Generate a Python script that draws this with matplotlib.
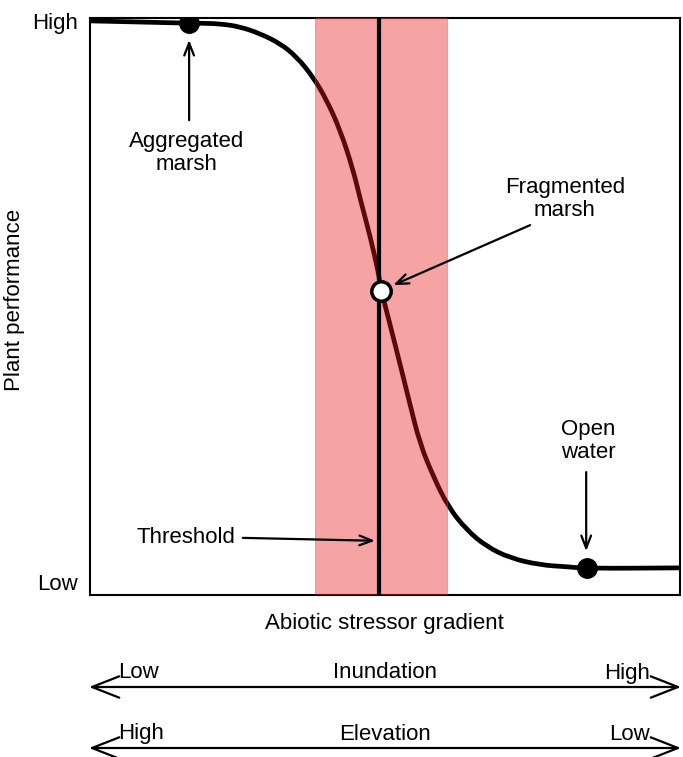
import matplotlib
matplotlib.use("Agg")
import matplotlib.pyplot as plt
from matplotlib.patches import FancyArrowPatch, PathPatch
from matplotlib.path import Path

plt.rcParams['font.family'] = ['Liberation Sans', 'DejaVu Sans']

# curve (x: stressor 0-100, y: performance 0-100)
stress = [0, 8.5, 16.8, 18.6, 22.0, 25.4, 28.8, 32.2, 35.0, 37.8, 40.1, 42.4,
          44.6, 45.8, 47.5, 48.9, 49.4, 50.8, 52.5, 54.2, 55.9, 58.2, 60.7,
          63.8, 67.2, 71.2, 76.3, 80.8, 84.2, 100]
performance = [99.5, 99.3, 99.1, 99.1, 99.0, 98.5, 97.3, 95.6, 93.3, 89.8, 85.8,
               80.6, 73.7, 68.6, 62.1, 55.8, 52.6, 47.1, 40.2, 33.2, 26.3, 20.5,
               15.3, 11.3, 8.4, 6.4, 5.2, 4.9, 4.6, 4.7]

states = ["Aggregated\nmarsh", "Fragmented\nmarsh", "Open\nwater"]
state_x = [16.8, 49.4, 84.2]
state_y = [99.1, 52.6, 4.6]

threshold = 49.0
band = (38.1, 60.5)

fig = plt.figure(figsize=(6.83, 7.57), dpi=100)
ax = fig.add_axes([90/683, 1-595/757, 590/683, 577/757])
ax.set_xlim(0, 100)
ax.set_ylim(0, 100)

# smooth the read points: they act as quadratic bezier controls,
# the curve runs through the middles between them
pts = list(zip(stress, performance))
verts = [pts[0]]
codes = [Path.MOVETO]
for i in range(1, len(pts) - 1):
    mid = ((pts[i][0] + pts[i+1][0]) / 2, (pts[i][1] + pts[i+1][1]) / 2)
    verts += [pts[i], mid]
    codes += [Path.CURVE3, Path.CURVE3]
verts.append(pts[-1])
codes.append(Path.LINETO)
ax.add_patch(PathPatch(Path(verts, codes), facecolor='none', edgecolor='black',
                       lw=3.4, capstyle='butt', zorder=2))

ax.axvspan(band[0], band[1], facecolor=(0.9, 0.1, 0.1), alpha=0.4,
           edgecolor=(0.85, 0.3, 0.3), lw=0.8, zorder=3)
ax.axvline(threshold, color='black', lw=3, zorder=4)

ax.plot(state_x[0], state_y[0], 'o', color='black', ms=14, zorder=5)
ax.plot(state_x[2], state_y[2], 'o', color='black', ms=14, zorder=5)
ax.plot(state_x[1], state_y[1], 'o', mfc='white', mec='black', mew=2.5, ms=14, zorder=6)

for s in ax.spines.values():
    s.set_linewidth(1.5)
ax.set_xticks([])
ax.set_yticks([])

fs = 16
arrow = dict(arrowstyle='->,head_length=0.9,head_width=0.35', color='black', lw=1.6,
             shrinkA=0, shrinkB=0)
ax.annotate("", xy=(16.8, 96.2), xytext=(16.8, 82.3), arrowprops=arrow)
ax.text(16.4, 76.6, states[0], ha='center', va='center', fontsize=fs, linespacing=1.1)
ax.annotate("", xy=(51.4, 53.7), xytext=(74.6, 64.1), arrowprops=arrow)
ax.text(80.5, 68.6, states[1], ha='center', va='center', fontsize=fs, linespacing=1.1)
ax.annotate("", xy=(84.1, 7.6), xytext=(84.1, 21.3), arrowprops=arrow)
ax.text(84.4, 26.7, states[2], ha='center', va='center', fontsize=fs, linespacing=1.1)
ax.annotate("", xy=(48.3, 9.4), xytext=(25.9, 9.9), arrowprops=arrow)
ax.text(24.7, 9.9, "Threshold", ha='right', va='center', fontsize=fs)

# labels outside the axes, in pixel units of an overlay
ov = fig.add_axes([0, 0, 1, 1], zorder=-1)
ov.set_xlim(0, 683)
ov.set_ylim(757, 0)
ov.axis('off')

ov.text(78, 24, "High", ha='right', va='center', fontsize=fs)
ov.text(78, 584, "Low", ha='right', va='center', fontsize=fs)
ov.text(15, 300, "Plant performance", rotation=90, ha='center', va='center', fontsize=fs)
ov.text(384, 623, "Abiotic stressor gradient", ha='center', va='center', fontsize=fs)

gradients = [("Inundation", "Low", "High"), ("Elevation", "High", "Low")]
rows = [687, 748]
for (name, left, right), y in zip(gradients, rows):
    ov.add_patch(FancyArrowPatch((89, y), (681, y),
                                 arrowstyle='<->,head_length=1.4,head_width=0.55',
                                 mutation_scale=14, color='black', lw=1.6,
                                 shrinkA=0, shrinkB=0))
    ov.text(118, y - 14, left, ha='left', va='center', fontsize=fs)
    ov.text(385, y - 14, name, ha='center', va='center', fontsize=fs)
    ov.text(650, y - 14, right, ha='right', va='center', fontsize=fs)

fig.savefig("out.png", dpi=100)
